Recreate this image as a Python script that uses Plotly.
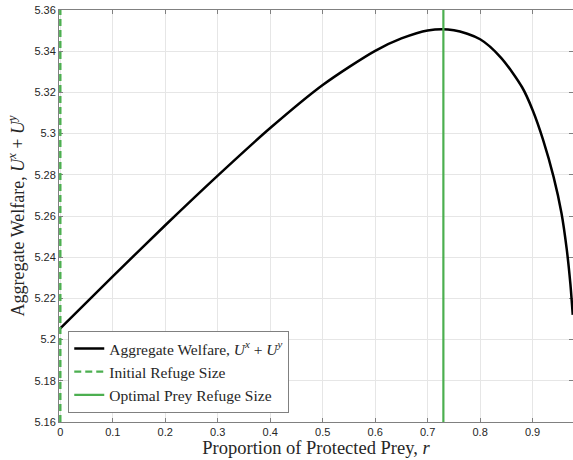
import plotly.graph_objects as go

# Aggregate welfare against the proportion of protected prey
r_vals = [0.0, 0.1, 0.2, 0.3, 0.4, 0.5, 0.6, 0.65, 0.7, 0.75, 0.8, 0.84,
          0.88, 0.9, 0.92, 0.94, 0.955, 0.965, 0.972, 0.9765]
welfare = [5.2055, 5.2307, 5.2555, 5.2796, 5.3027, 5.3236, 5.3402, 5.3462, 5.3501,
           5.3502, 5.3458, 5.3368, 5.3225, 5.3115, 5.2970, 5.2790, 5.2615, 5.2440,
           5.2270, 5.2120]

initial_refuge = 0.0
optimal_refuge = 0.73

y_range = [5.16, 5.36]
x_range = [-0.0025, 0.977]
x_ticks = [0, 0.1, 0.2, 0.3, 0.4, 0.5, 0.6, 0.7, 0.8, 0.9]
y_ticks = [5.16, 5.18, 5.2, 5.22, 5.24, 5.26, 5.28, 5.3, 5.32, 5.34, 5.36]

green = "#4CAF50"
serif = "Liberation Serif, DejaVu Serif, serif"
sans = "Liberation Sans, Arial, sans-serif"
welfare_label = "Aggregate Welfare, <i>U</i><sup><i>x</i></sup> + <i>U</i><sup><i>y</i></sup>"

fig = go.Figure()
fig.add_trace(go.Scatter(
    x=r_vals, y=welfare, mode="lines",
    line=dict(color="black", width=2.5, shape="spline", smoothing=0.8),
    name=welfare_label))
fig.add_trace(go.Scatter(
    x=[initial_refuge, initial_refuge], y=y_range, mode="lines",
    line=dict(color=green, width=2.4, dash="7px,4px"),
    name="Initial Refuge Size"))
fig.add_trace(go.Scatter(
    x=[optimal_refuge, optimal_refuge], y=y_range, mode="lines",
    line=dict(color=green, width=2.2),
    name="Optimal Prey Refuge Size"))

axis_common = dict(
    showgrid=True, gridcolor="#e6e6e6", gridwidth=1,
    showline=True, linecolor="#808080", linewidth=1, mirror="ticks",
    ticks="inside", ticklen=4, tickcolor="#808080",
    tickfont=dict(family=sans, size=11, color="#262626"),
    zeroline=False, layer="below traces",
)

fig.update_xaxes(
    range=x_range, tickvals=x_ticks, ticktext=[f"{t:g}" for t in x_ticks],
    title=dict(text="Proportion of Protected Prey, <i>r</i>",
               font=dict(family=serif, size=18.5, color="#262626"), standoff=3),
    **axis_common)
fig.update_yaxes(
    range=y_range, tickvals=y_ticks, ticktext=[f"{t:g}" for t in y_ticks],
    title=dict(text=welfare_label,
               font=dict(family=serif, size=18, color="#262626"), standoff=5),
    **axis_common)

fig.update_layout(
    width=573, height=460,
    margin=dict(l=59, r=0, t=10, b=38),
    paper_bgcolor="white", plot_bgcolor="white",
    legend=dict(
        x=0.018, y=0.022, xanchor="left", yanchor="bottom",
        bgcolor="white", bordercolor="#808080", borderwidth=1,
        font=dict(family=serif, size=15.5, color="#262626"),
        tracegroupgap=0, itemwidth=30,
    ),
    showlegend=True,
)

fig.write_html("out.html")
